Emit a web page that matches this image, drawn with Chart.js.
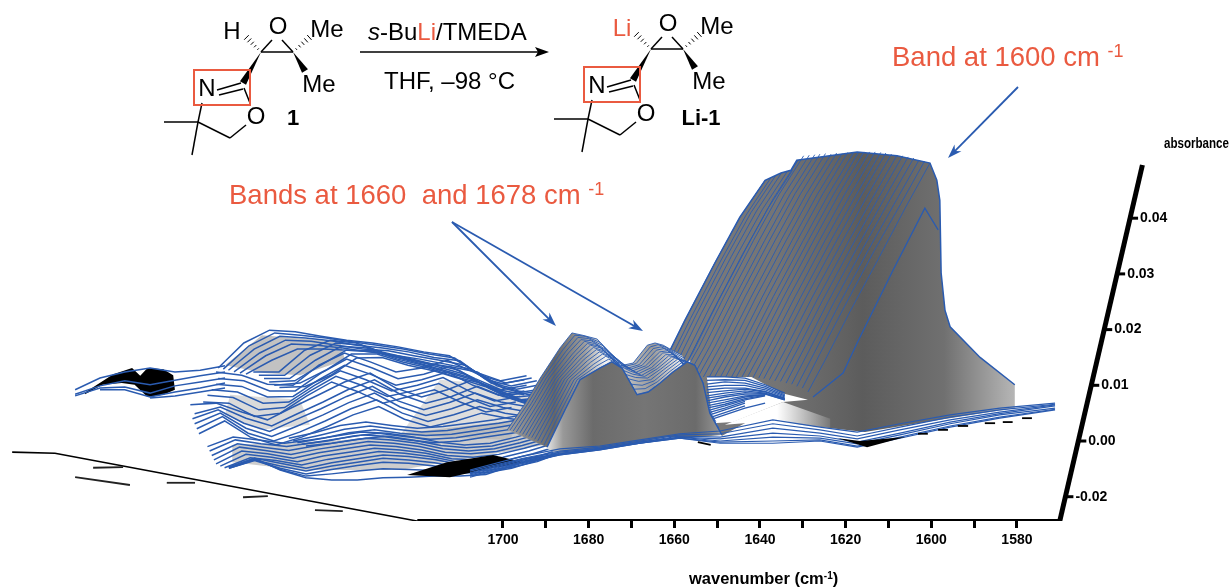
<!DOCTYPE html>
<html>
<head>
<meta charset="utf-8">
<style>
html,body{margin:0;padding:0;background:#fff;}
canvas{display:block;}
</style>
<script src="https://cdn.jsdelivr.net/npm/chart.js@4/dist/chart.umd.js"></script>
</head>
<body>
<canvas id="chart" width="1230" height="587"></canvas>
<script>
// axes
const xTicks = [1700,1690,1680,1670,1660,1650,1640,1630,1620,1610,1600,1590,1580];
const xLabels = [1700,1680,1660,1640,1620,1600,1580];
const yTicks = [-0.01,0,0.01,0.02,0.03,0.04];
const yLabels = ["-0.02","0.00","0.01","0.02","0.03","0.04"];

// spectra, absorbance x 1000, back to front
const leftGrid = [1770,1764,1758,1752,1746,1740,1734,1728,1722,1716,1710,1704,1698,1692];
const leftShift = [3.5,4.7,5.9,7.2,8.6,10,11.7,13,14.2,15.4,16.6,17.8,
3,3.5,3,2,1,0,-3,-2,-2.5,-2,-1.5,-1,
20,21,22,23,24,
1,1.5,2,2.5,3,4,5,6,6,6,6,6];
const leftRows = [
[13.1,17.6,19.9,19.6,18.8,18.1,17.6,16.9,16,15.3,12.4,10.8,11.7],
[12.9,17.1,19.4,19,18.5,17.8,17.2,16.5,15.6,14.9,11.8,10.4,11.3],
[12.7,16.5,18.8,18.5,18,17.2,16.7,16,15,14.4,11.1,9.9,10.8],
[12.4,15.8,18.1,17.9,17.2,16.5,16.2,15.3,14.5,13.6,10.4,9.3,10.2],
[12.2,15.3,17.4,17.2,16.7,16,15.4,14.7,13.8,12.9,9.9,8.8,9.5],
[12,14.5,16.5,16.5,16.3,16,14.9,14,13.3,12.4,9.5,8.3,9],
[12.4,12.4,16.3,18.1,17.6,16,14.9,13.8,12.7,10,8.3,8.8],
[11.8,11.8,15.4,17.6,17.2,15.6,14.5,13.3,12,9.5,7.9,8.3],
[11.2,11.2,14.5,17,16.7,15.2,14,12.7,11.4,9,7.4,7.9],
[10.6,10.8,13.6,16.3,16.2,14.7,13.6,12.2,10.9,8.6,7,7.4],
[10,10.4,12.7,15.6,15.6,14.2,13.1,11.6,10.4,8,6.5,7],
[9.6,9.8,11.8,14.9,15,13.6,12.6,11.2,9.8,7.6,6.1,6.6],
[12.4,11.8,10.2,10,13.6,15.8,14.2,12.4,13.1,14.5,12.4,10.2,11],
[11.2,10.8,9,9,12.2,14.7,13.1,11.2,12,13.4,11.2,9.2,10],
[10.2,9.8,7.9,8,11,13.6,12,10,11,12.4,10,8.2,9],
[9.2,8.8,6.8,7,10,12.6,11,9,10,11.4,9,7.2,8],
[8.2,7.8,5.6,6,9,11.6,10,8,9,10.3,8,6.2,7],
[7,6.8,4.4,5,8,10.6,8.9,6.8,8,9.2,7,5.2,6],
[6.5,6.8,5.2,3.8,6.1,8.3,10.6,12.2,9.5,7.9,9.2,11,9.2,8.3],
[4.9,6.1,4.1,2.7,4.9,7,9.3,11,8.4,6.8,8,9.8,8,7.2],
[4,5.6,3.2,1.7,3.8,5.8,8,9.8,7.2,5.6,6.9,8.6,7,6.2],
[3.1,5,2.3,0.8,2.7,4.7,6.9,8.6,6.1,4.6,5.8,7.4,6,5.2],
[2.2,4.4,1.4,0,1.6,3.6,5.8,7.4,5,3.5,4.7,6.2,5,4.3],
[1.3,3.6,0.7,-0.7,0.7,2.6,4.7,6.2,3.9,2.5,3.6,5,4.1,3.4],
[0.5,1.5,2.8,3.4,2.8,2.3,2.6,3.2,3.8,4.6],
[0,1,2.1,2.7,2.1,1.6,1.9,2.6,3.2,4],
[-0.3,0.5,1.5,2,1.4,1,1.2,1.9,2.6,3.4],
[-0.6,0,0.9,1.4,0.8,0.3,0.6,1.3,2,2.8],
[-0.9,-0.4,0.3,0.8,0.2,-0.3,0,0.7,1.4,2.2],
[-1,0.7,0.2,-0.4,0.2,0.9,1.6,1.4,0.7,-0.2,-0.7,-0.4,0.7,2],
[-1.8,0.2,-0.5,-1,-0.3,0.4,1.1,0.8,0.1,-0.8,-1.2,-0.9,0.2,1.5],
[-2.6,-0.5,-1.1,-1.7,-0.9,-0.2,0.5,0.2,-0.4,-1.4,-1.8,-1.4,-0.3,1],
[-3.4,-1.1,-1.7,-2.4,-1.5,-0.8,-0.1,-0.4,-1,-2,-2.3,-1.9,-0.8,0.5],
[-4.1,-1.8,-2.3,-3.1,-2.1,-1.4,-0.7,-1,-1.6,-2.6,-2.9,-2.4,-1.3,0],
[-4.5,-2.4,-2.9,-3.7,-2.7,-2,-1.3,-1.6,-2.2,-3.2,-3.4,-2.9,-1.8,-0.4],
[-4.8,-3,-3.5,-4.3,-3.3,-2.6,-1.9,-2.2,-2.8,-3.7,-3.9,-3.4,-2.3,-0.9],
[-4.7,-3.1,-4,-4.9,-3.9,-3.2,-2.5,-2.8,-3.3,-4.2,-4.4,-3.9,-2.8,-1.3],
[-4.9,-3.4,-4.5,-5.4,-4.5,-3.8,-3.1,-3.4,-3.9,-4.7,-4.8,-4.3,-3.3,-1.8],
[-4.9,-3.5,-4.9,-5.9,-5.1,-4.4,-3.8,-4,-4.5,-5.2,-5.3,-4.7,-3.7,-2],
[-4.8,-3.3,-5.1,-6.3,-5.9,-5.4,-5,-5.1,-5.3,-5.7,-5.7,-4.9,-3.5,-2.1],
[-4.7,-3.1,-5.2,-6.6,-7,-7,-6.6,-6.5,-6.3,-6.3,-6,-4.5,-3,-2.2]
];

const islandGrid = [1799.9,1794.1,1788.3,1782.4,1776.6,1770.7,1764.9];
const islandRows = [
[9.2,11.3,12.4,13.1,12.4,12.7,13.5],
[8.4,9.9,10.8,10.1,10.9,11.7,12.4],
[8.1,9.5,9.7,8.6,9.9,10.6,11.3],
[null,9.2,9.2,7.9,8.8,9.5,10.4],
[null,null,null,7.7,8.1,8.8,9.5]
];

const sheetGrid = [1628.8,1624.8,1619,1612,1606.1,1600.3];
const sheetShift = [38.5,37.2,36,34.7,33.4,32.1,30.8,29.5,28.2,26.9,25.7,24.4,23.1,21.8,20.5,19.2,17.9,16.7,15.4,14.1,12.8,11.5,10.3,9,7.7,6.4,5.1,3.8,2.6,1.3,0];
const sheetRows = [
[7.4,12.7,21.7,32,40.2,46.8],[7.7,13,22,32.3,40.5,47.2],[8.2,13.5,22.5,32.8,41,47.7],
[8.5,13.9,22.9,33.1,41.3,48.1],[8.7,14,23,33.3,41.5,48.3],[8.9,14.3,23.2,33.5,41.7,48.6],
[10.6,16,25,35.2,43.5,50.4],[11.4,16.8,25.7,36,44.2,51.2],[11.4,16.9,25.8,36,44.3,51.3],
[11.4,17,25.8,36,44.3,51.4],[11.5,17,25.9,36.1,44.4,51.5],[11.5,17.1,26,36.1,44.4,51.6],
[11.4,17,25.8,36,44.3,51.5],[11.5,17.1,26,36.1,44.4,51.7],[11.4,17,25.8,36,44.3,51.6],
[11.5,17.2,26,36.1,44.4,51.8],[11.4,17.1,25.9,36,44.3,51.7],[11.5,17.2,25.9,36,44.3,51.8],
[11.5,17.2,26,36.1,44.4,51.9],[11.5,17.2,26,36,44.3,51.9],[11.4,17.2,25.9,36,44.2,51.9],
[11.3,17.1,25.8,35.9,44.1,51.8],[11.2,17,25.7,35.7,44,51.7],[11,16.8,25.5,35.5,43.8,51.5],
[10.8,16.6,25.3,35.3,43.5,51.3],[10.7,16.5,25.2,35.2,43.4,51.2],[10.4,16.3,25,35,43.2,51],
[10.2,16.1,24.8,34.8,43,50.8],[9.8,15.7,24.4,34.4,42.5,50.4],[9.5,15.5,24.1,34.2,42.2,50.2],
[8.8,14.5,23.2,33.2,41.8,49.9]
];
const frontW = [1627.6,1620.6,1617.3,1608.9,1601.5,1598.4];
const frontA = [7.9,12.2,17.6,30.7,41.8,37.9];
const ridgeW = [1663.3,1657.5,1650.5,1644.7,1638.8,1635.1,1632.8,1631.4,1617.3,1608,1600.3,1598.7,1598,1597.7,1596.8,1595.6,1588.6,1580.5,1580.5,1598,1615.5,1630.7,1640,1648.9,1656.3];
const ridgeA = [12.7,21.7,32,40.2,46.8,48.1,48.6,50.4,51.9,51.2,49.9,46.8,43.2,30.2,23.5,20.5,15,10.1,5.9,3.8,1.6,2.9,4.7,0.9,14.5];

const patchGrid = [1652.4,1648.2,1643.5,1638.8,1634.2];
const patchRows = [
[11.5,11.5,11.3,10.1,8.6],[10.9,11,10.9,9.8,8.3],[10.2,10.6,10.4,9.5,8.1],[9.7,10,10,9.2,7.9],
[9.2,9.5,9.5,8.9,7.7],[8.7,9,9.3,8.8,7.6],[8.1,8.6,9,8.6,7.5],[7.7,8.2,8.7,8.5,7.4],
[7.2,7.9,8.4,8.4,7.4],[6.8,7.4,8.1,8.3],[6.3,7,7.9,8.3],[5.9,6.6,7.6,8.2],[5.4,6.3,7.4,8.1],
[5,5.9,7.1],[4.5,5.6,6.8],[4,5.1,6.3],[3.6,4.7,5.9,6.8]
];
const patchW = [1652.4,1642,1635,1628.8,1634.6,1646.3,1651];
const patchA = [11.5,11.5,8.6,7.4,7,3.4,3.2];
const glowW = [1648.2,1634.6,1623.6,1623.6,1640];
const glowA = [2.9,7,4,2.3,3.4];

const peakGrid = [1689.7,1685.5,1682,1677.4,1674.6,1672.2,1668.7,1666.1,1663.3,1660.3,1657,1655.2,1653.3,1651.7,1648.9];
const peakShift = [9.3,8.6,7.9,7.2,6.4,5.7,5,4.3,3.6,2.9,2.2,1.4,0.7,0];
const peakRows = [
[2,6.8,11.3,16.7,19.4,19,18.3,16,13.5,14,17.2,17.6,17.2,16.5,15.4],
[2,6.8,11.3,16.4,19,18.8,17.7,15.6,13.3,13.9,16.9,17.3,16.8,16,14.8],
[1.8,6.7,11.3,16.1,18.6,18.4,17.1,15.1,13,13.7,16.6,16.9,16.3,15.4,14.1],
[1.6,6.7,11.3,15.9,18.2,18,16.4,14.7,12.8,13.6,16.3,16.6,15.8,14.8,13.4],
[1.4,6.6,11.2,15.6,17.9,17.5,15.8,14.2,12.6,13.5,16,16.2,15.3,14,12.5],
[1.2,6.5,11.2,15.4,17.5,17.1,15.1,13.7,12.3,13.4,15.8,15.9,14.7,13.2,11.4],
[1,6.4,11.2,15.2,17.2,16.7,14.4,13.2,12.1,13.2,15.5,15.5,14.2,12.4,10.2],
[0.8,6.3,11.1,14.9,16.8,16.2,13.6,12.6,11.8,13.1,15.3,15.1,13.6,11.4,8.9],
[0.6,6.2,11.1,14.7,16.4,15.8,12.8,12,11.6,13,15.1,14.8,13,10.4,7.6],
[0.3,6.1,11.1,14.4,16,15.3,12,11.4,11.3,12.9,14.9,14.5,12.4,9.3,6.2],
[0,6,11,14.1,15.6,14.9,11.2,10.7,11,12.8,14.7,14.3,11.9,8.2,4.9],
[-0.3,5.9,11,13.8,15.2,14.4,10.2,10,10.8,12.7,14.6,14.1,11.4,7,3.5],
[-0.7,5.8,11,13.5,14.7,13.8,9.3,9.4,10.6,12.5,14.4,13.9,10.9,6,2.3],
[-1.1,5.6,11,13.1,14.2,13.1,8.3,8.8,10.4,12.4,14.2,13.6,10.4,5,1.1]
];
const wallBaseW = [1648.9,1654,1661.7,1677.4,1686.7,1689.7];
const wallBaseA = [1.1,0.7,0.7,-1.6,-2.5,-1.4];

const baseGrid = [1707.7,1695.3,1686.7,1677.4,1668,1658.7,1649.3,1637,1626,1617.3,1607.3,1595.6,1584,1571.1];
const baseRows = [
[-5.2,-2.7,-1.4,-0.9,0.2,1.3,1.8,3.8,2.5,1.6,3.1,4.7,5.9,6.8],
[-5.4,-3.1,-1.8,-1.1,0,1.1,1.3,3.1,2,0.9,2.5,4.3,5.6,6.6],
[-5.7,-3.2,-2,-1.3,-0.2,0.9,0.7,2.3,1.4,0.4,2,3.8,5.2,6.5],
[-5.9,-3.4,-2.2,-1.4,-0.2,0.7,0.4,1.4,0.9,-0.2,1.4,3.4,4.9,6.3],
[-6.1,-3.6,-2.3,-1.4,-0.4,0.7,0,0.7,0.5,-0.5,1.1,3.1,4.7,5.9],
[-6.3,-3.8,-2.5,-1.6,-0.4,0.5,-0.2,0,0.2,-0.9,0.7,2.7,4.3,5.7],
[-6.5,-4,-2.5,-1.6,-0.4,0.5,-0.4,-0.4,0,-1.1,0.5,2.5,4.1,5.6]
];

// shading and black clipped parts of the surface
const shadeW = [
[1764.9,1756.3,1738,1736.9,1747.4,1755.6],
[1763.7,1747.4,1745.1,1756.7,1764.9],
[1763.2,1737,1696,1690.2,1724,1747.4,1763.2],
[1714.7,1700.7,1693.7,1698.4,1724]
];
const shadeA = [
[13.6,19,17.8,14.5,11.8,12.2],
[8.3,7.4,2.9,2,4.7],
[-0.7,0.2,3.8,-0.7,-5.2,-5.2,-3.8],
[11,10.1,7.9,0.2,1.1]
];
const blackW = [
[1797.6,1791,1786.6,1784.7,1783,1779.3,1777,1776.6,1779.3,1783,1786,1789,1793.5,1797.6],
[1722.4,1713.1,1702.3,1695.3,1704.7,1712.4],
[1621.8,1616.6,1606.1,1615]
];
const blackA = [
[8.7,12,13.1,11.7,13.1,12.9,11.8,9.2,8.3,7.9,10.1,10.4,10.1,8.4],
[-6.1,-3.8,-2.5,-3.8,-5.2,-6.5],
[0.5,0,0.7,-1.1]
];
const floorW = [1814.6,1804.6,1719.8];
const floorA = [-2,-2.2,-14.4];
const smudgeW = [[1795.7,1788.7],[1799.9,1787.1],[1778.5,1771.9],[1760.7,1754.9],[1743.9,1737.4]];
const smudgeA = [[-4.8,-4.7],[-6.5,-7.9],[-7.5,-7.5],[-10.1,-9.9],[-12.4,-12.6]];
const dashW = [[1654.5,1651.5],[1603.1,1600.8],[1598.4,1596.1],[1593.8,1591.4],[1587.5,1585.1],[1583.3,1581],[1578.8,1576.5]];
const dashA = [[-0.2,-0.7],[1.3,1.3],[2,2],[2.7,2.7],[3.2,3.2],[3.4,3.4],[4.1,4.1]];
const xAxisW = [1720,1570];
const xAxisA = [-14.36,-14.36];
const yAxisW = [1570,1550.7];
const yAxisA = [-14.36,49.55];

const BLUE = "#2a5bb0";
const RED = "#ea5a40";
const NARROW = '"Liberation Sans Narrow","Liberation Sans",Arial,sans-serif';
const SANS = '"Liberation Sans",Arial,sans-serif';

const datasets = [];

function pts(ws,as){
const out=[];
as.forEach((a,i)=>{ if(a!==null && a!==undefined) out.push({x:ws[i],y:a/1000}); });
return out;
}

function addLine(data,color,width){
datasets.push({data:data,showLine:true,borderColor:color,borderWidth:width,pointRadius:0,fill:false,tension:0});
}

function addShape(data,background){
datasets.push({data:data,showLine:true,borderWidth:0,borderColor:"rgba(0,0,0,0)",pointRadius:0,fill:"shape",backgroundColor:background,tension:0});
}

// horizontal gradient whose stops are wavenumbers
function gradient(stopW,stopC){
return function(c){
const chart=c.chart;
if(!chart.chartArea) return stopC[0];
const xs=chart.scales.x;
const x0=xs.getPixelForValue(stopW[0]);
const x1=xs.getPixelForValue(stopW[stopW.length-1]);
const g=chart.ctx.createLinearGradient(x0,0,x1,0);
stopW.forEach((w,i)=>{
g.addColorStop((xs.getPixelForValue(w)-x0)/(x1-x0),stopC[i]);
});
return g;
};
}

// s > 0 moves a row to the right (towards lower wavenumber)
function shifted(grid,row,s){
return pts(grid.map(w=>w-s),row);
}

// far left
addShape(pts(blackW[0],blackA[0]),"#000");
islandRows.forEach(r=>addLine(pts(islandGrid,r),BLUE,1.5));
addShape(pts(shadeW[0],shadeA[0]),"rgba(120,120,120,.45)");
addShape(pts(shadeW[1],shadeA[1]),"rgba(150,150,150,.35)");
addShape(pts(shadeW[2],shadeA[2]),"rgba(130,130,130,.4)");
addShape(pts(shadeW[3],shadeA[3]),"rgba(160,160,160,.35)");
leftRows.forEach((r,k)=>addLine(shifted(leftGrid,r,leftShift[k]),BLUE,1.5));
addShape(pts(blackW[1],blackA[1]),"#000");

// big band
addShape(pts(ridgeW,ridgeA),gradient(
[1660,1636,1616,1597,1580],
["#7c7c7c","#747474","#5c5c5c","#707070","#b8b8b8"]));
sheetRows.forEach((r,k)=>addLine(shifted(sheetGrid,r,-sheetShift[k]),BLUE,0.9));
addLine(pts(ridgeW.slice(0,18),ridgeA.slice(0,18)),BLUE,1.5);
addLine(pts(frontW,frontA),BLUE,1.3);

addShape(pts(glowW,glowA),gradient([1650,1636,1622],["#fff","#fff","rgba(255,255,255,0)"]));
addShape(pts(patchW,patchA),"#fff");
patchRows.forEach(r=>addLine(pts(patchGrid,r),BLUE,1.3));

// two small bands
const peakBack=shifted(peakGrid,peakRows[0],-peakShift[0]);
const peakFront=shifted(peakGrid,peakRows[13],0);
addShape(peakBack.concat(peakFront.slice().reverse()),gradient(
[1698,1688,1681,1676,1672,1665,1659,1654,1650],
["#9a9a9a","#666","#9c9c9c","#f4f4f4","#c4c4c4","#999","#e8e8e8","#f2f2f2","#b0b0b0"]));
peakRows.forEach((r,k)=>addLine(shifted(peakGrid,r,-peakShift[k]),BLUE,0.9));
addShape(peakFront.concat(pts(wallBaseW,wallBaseA)),gradient(
[1691,1686,1679,1667,1655,1650,1646],
["#fff","#999","#6b6b6b","#757575","#6b6b6b","#909090","#eee"]));
addLine(peakFront,BLUE,1.4);

// flat spectra in front
baseRows.forEach(r=>addLine(pts(baseGrid,r),BLUE,1.2));
addShape(pts(blackW[2],blackA[2]),"#000");
dashW.forEach((w,i)=>addLine(pts(w,dashA[i]),"#000",1.8));

// floor and axes
addLine(pts(floorW,floorA),"#000",1.6);
smudgeW.forEach((w,i)=>addLine(pts(w,smudgeA[i]),"#222",1.8));
addLine(pts(xAxisW,xAxisA),"#000",4);
addLine(pts(yAxisW,yAxisA),"#000",5);

// first dataset is painted last otherwise, so count down
datasets.forEach((d,i)=>{ d.order=datasets.length-i; });

function textRuns(ctx,x,y,runs){
let cx=x;
runs.forEach(r=>{
ctx.font=r.font;
ctx.fillStyle=r.color;
ctx.fillText(r.text,cx,y+(r.rise||0));
cx+=ctx.measureText(r.text).width;
});
}

function arrow(ctx,x0,y0,x1,y1){
const a=Math.atan2(y1-y0,x1-x0);
ctx.strokeStyle=BLUE;
ctx.fillStyle=BLUE;
ctx.lineWidth=1.8;
ctx.beginPath();
ctx.moveTo(x0,y0);
ctx.lineTo(x1-8*Math.cos(a),y1-8*Math.sin(a));
ctx.stroke();
ctx.beginPath();
ctx.moveTo(x1,y1);
ctx.lineTo(x1-15*Math.cos(a-0.33),y1-15*Math.sin(a-0.33));
ctx.lineTo(x1-10*Math.cos(a),y1-10*Math.sin(a));
ctx.lineTo(x1-15*Math.cos(a+0.33),y1-15*Math.sin(a+0.33));
ctx.closePath();
ctx.fill();
}

function wedge(ctx,x0,y0,x1,y1,w){
const a=Math.atan2(y1-y0,x1-x0)+Math.PI/2;
ctx.fillStyle="#000";
ctx.beginPath();
ctx.moveTo(x0,y0);
ctx.lineTo(x1+w*Math.cos(a),y1+w*Math.sin(a));
ctx.lineTo(x1-w*Math.cos(a),y1-w*Math.sin(a));
ctx.closePath();
ctx.fill();
}

function hashed(ctx,x0,y0,x1,y1){
const a=Math.atan2(y1-y0,x1-x0)+Math.PI/2;
ctx.strokeStyle="#000";
ctx.lineWidth=1;
for(let i=1;i<=5;i++){
const t=i/5.5;
const px=x0+(x1-x0)*t;
const py=y0+(y1-y0)*t;
const w=0.5+t*3;
ctx.beginPath();
ctx.moveTo(px+w*Math.cos(a),py+w*Math.sin(a));
ctx.lineTo(px-w*Math.cos(a),py-w*Math.sin(a));
ctx.stroke();
}
}

function bond(ctx,pairs){
ctx.strokeStyle="#000";
ctx.lineWidth=1.5;
pairs.forEach(p=>{
ctx.beginPath();
ctx.moveTo(p[0],p[1]);
ctx.lineTo(p[2],p[3]);
ctx.stroke();
});
}

function molecule(ctx,dx,dy,hLabel,hColor,name,nameX,nameY){
ctx.save();
ctx.translate(dx,dy);
bond(ctx,[[261,52,293,52],[261,52,272,40],[293,52,282,40],[217,90,241,83],[219,95,243,89],
[244,88,250,103],[246,125,230,138],[230,138,198,122],[202,103,198,122],[164,122,198,122],[192,155,198,122]]);
hashed(ctx,261,52,245,36);
hashed(ctx,293,52,311,36);
wedge(ctx,293,52,305,71,3.5);
wedge(ctx,261,52,243,83,3.5);
ctx.strokeStyle=RED;
ctx.lineWidth=2;
ctx.strokeRect(194,70,56,35);
ctx.textAlign="center";
ctx.textBaseline="middle";
ctx.font="24px "+SANS;
ctx.fillStyle="#000";
ctx.fillText("O",278,27);
ctx.fillText("Me",327,30);
ctx.fillText("Me",319,85);
ctx.fillText("N",207,89);
ctx.fillText("O",256,117);
ctx.fillStyle=hColor;
ctx.fillText(hLabel,232,32);
ctx.fillStyle="#000";
ctx.font="bold 22px "+SANS;
ctx.fillText(name,nameX,nameY);
ctx.restore();
}

const figurePlugin={
id:"figure",
afterDraw(chart){
const ctx=chart.ctx;
const ys=chart.scales.y;
ctx.save();

// skewed absorbance axis, ticks placed from the y scale
const yAt=a=>ys.getPixelForValue(a);
const y0=yAt(yAxisA[0]/1000);
const y1=yAt(yAxisA[1]/1000);
const x0=chart.scales.x.getPixelForValue(yAxisW[0]);
const x1=chart.scales.x.getPixelForValue(yAxisW[1]);
ctx.textAlign="left";
ctx.textBaseline="middle";
yTicks.forEach((v,i)=>{
const py=yAt(v);
const px=x0+(x1-x0)*(py-y0)/(y1-y0);
ctx.strokeStyle="#000";
ctx.lineWidth=3;
ctx.beginPath();
ctx.moveTo(px,py);
ctx.lineTo(px+8,py);
ctx.stroke();
ctx.fillStyle="#000";
ctx.font="bold 14px "+NARROW;
ctx.fillText(yLabels[i],px+10,py);
});
ctx.font="bold 15px "+SANS;
ctx.fillText("absorbance",1164,144,65);

ctx.textBaseline="alphabetic";
textRuns(ctx,689,584,[
{text:"wavenumber (cm",font:"bold 16.5px "+NARROW,color:"#000"},
{text:"-1",font:"bold 10px "+NARROW,color:"#000",rise:-5},
{text:")",font:"bold 16.5px "+NARROW,color:"#000"}]);

// band labels and arrows
textRuns(ctx,892,66,[{text:"Band at 1600 cm ",font:"27.5px "+SANS,color:RED},{text:"-1",font:"18px "+SANS,color:RED,rise:-9}]);
textRuns(ctx,229,204,[{text:"Bands at 1660  and 1678 cm ",font:"27.5px "+SANS,color:RED},{text:"-1",font:"18px "+SANS,color:RED,rise:-9}]);
arrow(ctx,1018,87,948,158);
arrow(ctx,452,222,556,326);
arrow(ctx,452,222,643,331);

// reaction scheme
molecule(ctx,0,0,"H","#000","1",293,119);
molecule(ctx,390,-3,"Li",RED,"Li-1",311,122);
ctx.strokeStyle="#000";
ctx.fillStyle="#000";
ctx.lineWidth=1.4;
ctx.beginPath();
ctx.moveTo(360,52);
ctx.lineTo(540,52);
ctx.stroke();
ctx.beginPath();
ctx.moveTo(549,52);
ctx.lineTo(535,47);
ctx.lineTo(538,52);
ctx.lineTo(535,57);
ctx.closePath();
ctx.fill();
ctx.textAlign="left";
ctx.textBaseline="middle";
textRuns(ctx,368,33,[
{text:"s",font:"italic 24px "+SANS,color:"#000"},
{text:"-Bu",font:"24px "+SANS,color:"#000"},
{text:"Li",font:"24px "+SANS,color:RED},
{text:"/TMEDA",font:"24px "+SANS,color:"#000"}]);
textRuns(ctx,384,82,[{text:"THF, \u201398 \u00b0C",font:"24px "+SANS,color:"#000"}]);
ctx.restore();
}
};

new Chart(document.getElementById("chart"),{
type:"scatter",
data:{datasets:datasets},
plugins:[figurePlugin],
options:{
responsive:false,
animation:false,
layout:{padding:0},
plugins:{legend:{display:false},tooltip:{enabled:false},title:{display:false}},
scales:{
x:{
type:"linear",
reverse:true,
min:1530.25,
max:1817.44,
afterFit(s){ s.height=66; },
afterBuildTicks(s){ s.ticks=xTicks.map(v=>({value:v})); },
border:{display:false},
grid:{drawOnChartArea:false,drawTicks:true,tickLength:7,tickWidth:3,tickColor:"#000"},
ticks:{
autoSkip:false,
maxRotation:0,
padding:4,
color:"#000",
font:{family:NARROW,size:14,weight:"bold"},
callback(v){ return xLabels.includes(v)?String(v):""; }
}
},
y:{
type:"linear",
display:false,
min:-0.01436,
max:0.07917
}
}
}
});
</script>
</body>
</html>
